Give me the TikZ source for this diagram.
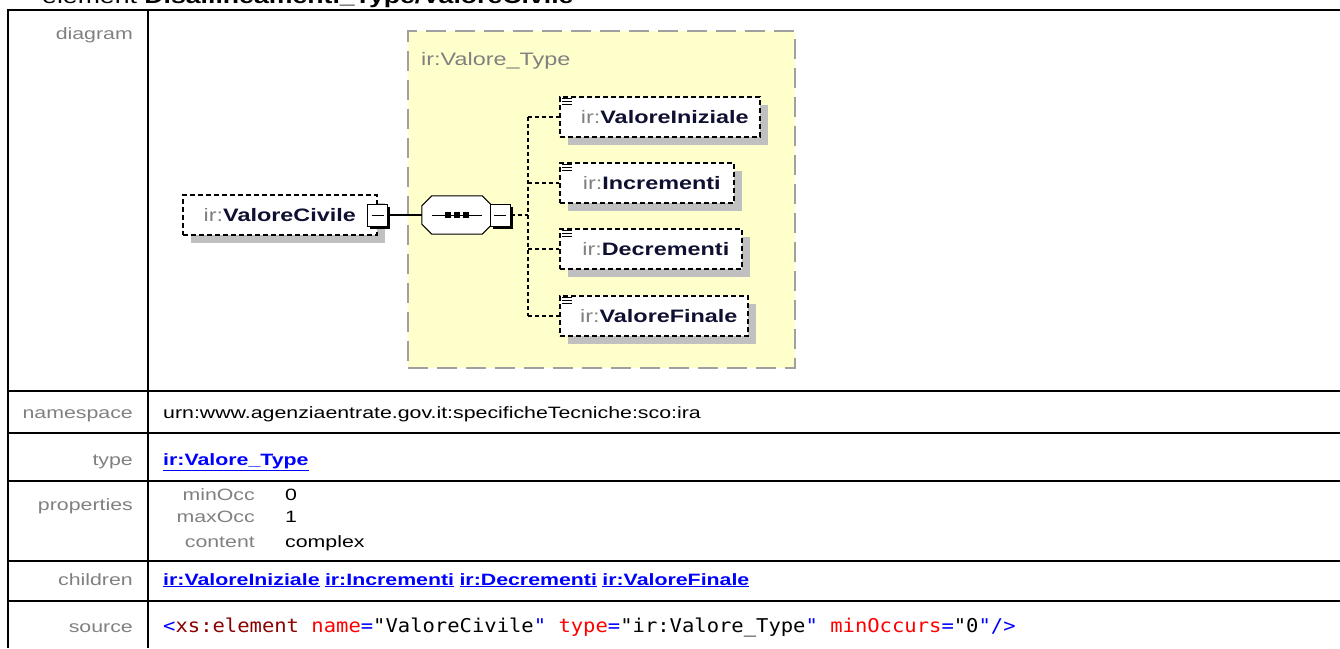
\documentclass[tikz,border=0pt]{standalone}
\usepackage{fontspec}
\setmainfont{Liberation Sans}
\newfontfamily\tblfont[FakeStretch=1.3]{Liberation Sans}
\setmonofont[FakeStretch=1.08]{DejaVu Sans Mono}
\usepackage{tikz}
\usetikzlibrary{shadows, positioning}

\definecolor{lblgray}{RGB}{128,128,128}
\definecolor{typeyellow}{RGB}{255,255,204}
\definecolor{typeborder}{RGB}{160,160,160}
\definecolor{shadowgray}{RGB}{192,192,192}
\definecolor{elemtext}{RGB}{15,15,50}
\definecolor{linkblue}{RGB}{0,0,255}
\definecolor{xmltag}{RGB}{140,0,0}
\definecolor{xmlattr}{RGB}{255,0,0}
\definecolor{xmlsym}{RGB}{0,0,255}

\newcommand{\tblfnt}{\tblfont\fontsize{16.4}{19}\selectfont}
\newcommand{\dgmfnt}{\tblfont\fontsize{18}{21}\selectfont}
\newcommand{\ttlfnt}{\tblfont\fontsize{20.5}{24}\selectfont}
\newcommand{\srcfnt}{\ttfamily\fontsize{19}{22}\selectfont}
\newcommand{\nsp}{\textcolor{lblgray}{ir:}}
\newcommand{\ename}[1]{\textcolor{elemtext}{\textbf{#1}}}

\begin{document}
\begin{tikzpicture}[
        x=1pt, y=-1pt,
        % Define styles
        tblline/.style={line width=2pt},
        lbl/.style={anchor=base east, text=lblgray, font=\tblfnt, inner sep=0pt},
        val/.style={anchor=base west, font=\tblfnt, inner sep=0pt},
        lnk/.style={anchor=base west, font=\tblfnt\bfseries, text=linkblue, inner sep=0pt},
        typebox/.style={draw=typeborder, line width=2pt, dash pattern=on 20pt off 9pt, fill=typeyellow, anchor=north west, inner sep=0pt},
        elem/.style={draw, line width=1.6pt, dash pattern=on 5pt off 3pt, fill=white, minimum height=40pt, inner sep=0pt, anchor=west, font=\dgmfnt,
            general shadow={fill=shadowgray, shadow xshift=8pt, shadow yshift=-8pt}},
        minusbox/.style={draw, solid, fill=white, line width=1pt, minimum width=20pt, minimum height=22pt, inner sep=0pt,
            general shadow={fill=black, shadow xshift=2.5pt, shadow yshift=-2.5pt},
            path picture={\draw[line width=1pt] ([xshift=4pt]path picture bounding box.west) -- ([xshift=-4pt]path picture bounding box.east);}},
        seqbox/.style={minimum width=70pt, minimum height=38pt, inner sep=0pt},
        conn/.style={line width=1.4pt, dash pattern=on 4pt off 3pt},
        docicon/.style={line width=1pt}
    ]
    \useasboundingbox (0,0) rectangle (1340,648);

    % 1. Title (cut at the top) and table grid
    \node[anchor=base west, font=\ttlfnt, inner sep=0pt] (title) at (42,3) {element \textbf{Disallineamenti\_Type/ValoreCivile}};
    \draw[tblline] (8,648) -- (8,10) -- (1340,10);
    \draw[tblline] (148,10) -- (148,648);
    \foreach \y in {391,433,481,561,601}
        \draw[tblline] (8,\y) -- (1340,\y);

    % 2. Row labels
    \node[lbl] (ldiagram) at (133,39) {diagram};
    \node[lbl] (lns) at (133,418) {namespace};
    \node[lbl] (ltype) at (133,465) {type};
    \node[lbl] (lprops) at (133,510) {properties};
    \node[lbl] (lchildren) at (133,585) {children};
    \node[lbl] (lsource) at (133,632) {source};

    % 3. Diagram: type box
    \node[typebox, minimum width=387pt, minimum height=337pt] (vtype) at (407,30) {};
    \node[anchor=base west, font=\dgmfnt, text=lblgray, inner sep=0pt] (vtypelbl) at (421,65) {ir:Valore\_Type};

    % element ValoreCivile
    \node[elem, minimum width=194pt] (civ) at (182,215) {\nsp\ename{ValoreCivile}};
    \node[minusbox] (civm) at (civ.east) {};

    % sequence compositor (octagon with shadow)
    \node[seqbox] (seq) at (457,215) {};
    \fill[shadowgray, shift={(8,8)}] ([xshift=10pt]seq.north west) -- ([xshift=-10pt]seq.north east) -- ([yshift=-10pt]seq.north east)
        -- ([yshift=10pt]seq.south east) -- ([xshift=-10pt]seq.south east) -- ([xshift=10pt]seq.south west)
        -- ([yshift=10pt]seq.south west) -- ([yshift=-10pt]seq.north west) -- cycle;
    \filldraw[fill=white, line width=1pt] ([xshift=10pt]seq.north west) -- ([xshift=-10pt]seq.north east) -- ([yshift=-10pt]seq.north east)
        -- ([yshift=10pt]seq.south east) -- ([xshift=-10pt]seq.south east) -- ([xshift=10pt]seq.south west)
        -- ([yshift=10pt]seq.south west) -- ([yshift=-10pt]seq.north west) -- cycle;
    \draw[line width=1pt] ([xshift=10pt]seq.west) -- ([xshift=-10pt]seq.east);
    \foreach \dx in {-9,0,9}
        \fill ([xshift=\dx pt]seq.center) +(-3,-3) rectangle +(3,3);
    \node[minusbox] (seqm) at ([xshift=8pt]seq.east) {};
    \draw[line width=1.3pt] (civm.east) -- (seq.west);

    % children
    \node[elem, minimum width=200pt] (cini) at (559,117) {\hspace{10pt}\nsp\ename{ValoreIniziale}};
    \node[elem, minimum width=174pt] (cinc) at (559,183) {\hspace{10pt}\nsp\ename{Incrementi}};
    \node[elem, minimum width=182pt] (cdec) at (559,249) {\hspace{10pt}\nsp\ename{Decrementi}};
    \node[elem, minimum width=188pt] (cfin) at (559,316) {\hspace{10pt}\nsp\ename{ValoreFinale}};
    \foreach \c in {cini,cinc,cdec,cfin}
        \foreach \d in {2,5,8}
            \draw[docicon] ([xshift=3pt,yshift=-\d pt]\c.north west) -- ++(10,0);

    % dashed connectors to children
    \coordinate (fork) at (528,215);
    \draw[conn] (seqm.east) -- (fork);
    \draw[conn] (fork |- cini.west) -- (fork |- cfin.west);
    \foreach \c in {cini,cinc,cdec,cfin}
        \draw[conn] (fork |- \c.west) -- (\c.west);

    % 4. Other rows
    \node[val] (vns) at (163,418) {urn:www.agenziaentrate.gov.it:specificheTecniche:sco:ira};
    \node[lnk] (vtypelnk) at (163,465) {\underline{ir:Valore\_Type}};

    \node[lbl] (pmin) at (255,500) {minOcc};
    \node[lbl] (pmax) at (255,522) {maxOcc};
    \node[lbl] (pcont) at (255,547) {content};
    \node[val] (vmin) at (285,500) {0};
    \node[val] (vmax) at (285,522) {1};
    \node[val] (vcont) at (285,547) {complex};

    \node[lnk] (ch1) at (163,585) {\underline{ir:ValoreIniziale}};
    \node[lnk, base right=5pt of ch1] (ch2) {\underline{ir:Incrementi}};
    \node[lnk, base right=5pt of ch2] (ch3) {\underline{ir:Decrementi}};
    \node[lnk, base right=5pt of ch3] (ch4) {\underline{ir:ValoreFinale}};

    \node[anchor=base west, font=\srcfnt, inner sep=0pt] (src) at (163,632) {\textcolor{xmlsym}{<}\textcolor{xmltag}{xs:element} \textcolor{xmlattr}{name}\textcolor{xmlsym}{=}"ValoreCivile\textcolor{xmlsym}{"} \textcolor{xmlattr}{type}\textcolor{xmlsym}{=}"ir:Valore\_Type\textcolor{xmlsym}{"} \textcolor{xmlattr}{minOccurs}\textcolor{xmlsym}{=}"0\textcolor{xmlsym}{"/>}};

\end{tikzpicture}
\end{document}
